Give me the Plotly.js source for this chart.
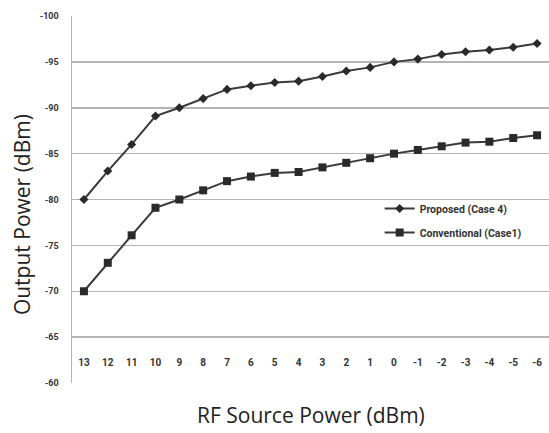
<!DOCTYPE html>
<html>
<head>
<meta charset="utf-8">
<script src="https://cdn.plot.ly/plotly-3.0.1.min.js"></script>
<style>html,body{margin:0;padding:0;background:#fff;}#chart{width:549px;height:433px;}</style>
</head>
<body>
<div id="chart"></div>
<script>
const categories = ["13","12","11","10","9","8","7","6","5","4","3","2","1","0","-1","-2","-3","-4","-5","-6"];
const proposed = [-80,-83.1,-86,-89.1,-90,-91,-92,-92.4,-92.75,-92.9,-93.4,-94,-94.4,-95,-95.3,-95.8,-96.1,-96.3,-96.6,-97];
const conventional = [-70,-73.1,-76.1,-79.1,-80,-81,-82,-82.5,-82.9,-83,-83.5,-84,-84.5,-85,-85.4,-85.8,-86.2,-86.3,-86.7,-87];
const yTickVals = [-60,-65,-70,-75,-80,-85,-90,-95,-100];
const yTickText = ["-60","-65","-70","-75","-80","-85","-90","-95","-100"];
const seriesNames = ["Proposed (Case 4)","Conventional (Case1)"];
const xTitle = "RF Source Power (dBm)";
const yTitle = "Output Power (dBm)";

const traces = [
  {x: categories, y: proposed, name: seriesNames[0], type: 'scatter', mode: 'lines+markers',
   line: {color: '#3a3a3a', width: 2}, marker: {symbol: 'diamond', size: 7, color: '#2a2a2a'}, legendgroup: 'a'},
  {x: categories, y: conventional, name: seriesNames[1], type: 'scatter', mode: 'lines+markers',
   line: {color: '#3a3a3a', width: 2}, marker: {symbol: 'square', size: 8, color: '#2a2a2a'}, legendgroup: 'b'}
];

const layout = {
  width: 549, height: 433,
  margin: {l: 72, r: 0, t: 16, b: 50},
  paper_bgcolor: '#fff', plot_bgcolor: '#fff',
  showlegend: true,
  legend: {x: 0.645, y: 0.515, xanchor: 'left', yanchor: 'top', bgcolor: 'rgba(255,255,255,0)',
           font: {family: 'Liberation Sans Narrow, Roboto, sans-serif', size: 10.5, color: '#333', weight: 'bold'},
           traceorder: 'grouped', tracegroupgap: 5, itemwidth: 30},
  xaxis: {type: 'category', range: [-0.5, 19.5], showgrid: false, zeroline: false, showline: false,
          anchor: 'free', position: 0.075, ticks: '',
          tickfont: {family: 'Liberation Sans Narrow, Roboto, sans-serif', size: 10, color: '#333', weight: 'bold'}},
  yaxis: {range: [-60, -100], tickvals: yTickVals, ticktext: yTickText, showgrid: true,
          gridcolor: '#b4b4b4', gridwidth: 1.5, zeroline: false, showline: true, linecolor: '#b4b4b4', linewidth: 1.5,
          ticks: '', ticklabelstandoff: 10,
          tickfont: {family: 'Liberation Sans Narrow, Roboto, sans-serif', size: 9, color: '#333', weight: 'bold'}},
  annotations: [
    {text: xTitle, xref: 'paper', yref: 'paper', x: 0.5, y: -0.087, xanchor: 'center', yanchor: 'middle',
     showarrow: false, font: {family: 'Open Sans, sans-serif', size: 21, color: '#222'}},
    {text: yTitle, xref: 'paper', yref: 'paper', x: -0.105, y: 0.46, xanchor: 'center', yanchor: 'middle',
     textangle: -90, showarrow: false, font: {family: 'Open Sans, sans-serif', size: 21, color: '#222'}}
  ]
};

Plotly.newPlot('chart', traces, layout, {displayModeBar: false, staticPlot: true});
</script>
</body>
</html>
